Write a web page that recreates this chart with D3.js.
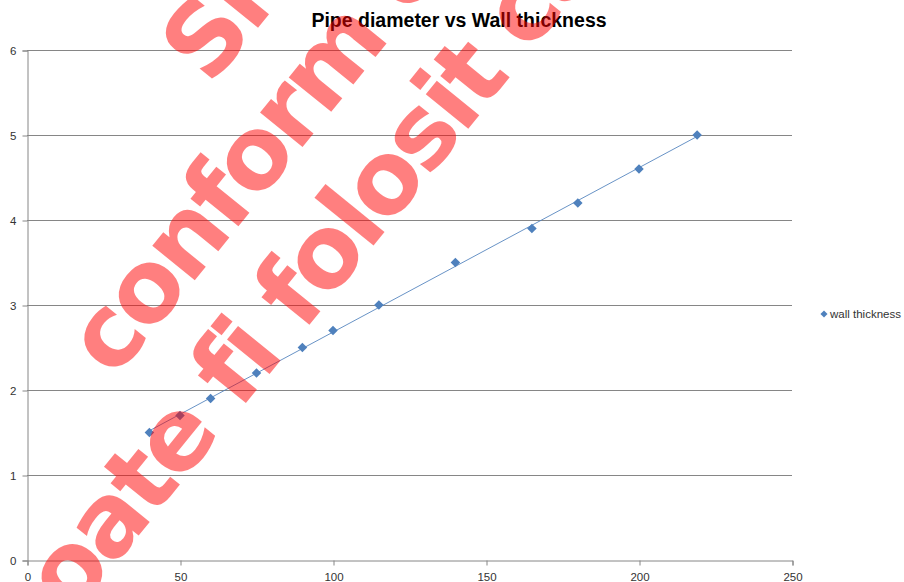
<!DOCTYPE html>
<html>
<head>
<meta charset="utf-8">
<script src="https://cdn.jsdelivr.net/npm/d3@7/dist/d3.min.js"></script>
<style>
  html, body { margin: 0; padding: 0; background: #fff; }
  svg { display: block; }
</style>
</head>
<body>
<svg id="chart" width="904" height="582"></svg>
<script>
// ---- data ----
const diameters = [40, 50, 60, 75, 90, 100, 115, 140, 165, 180, 200, 219];
const wallThickness = [1.5, 1.7, 1.9, 2.2, 2.5, 2.7, 3.0, 3.5, 3.9, 4.2, 4.6, 5.0];
const xTicks = [0, 50, 100, 150, 200, 250];
const yTicks = [0, 1, 2, 3, 4, 5, 6];
const seriesName = "wall thickness";
const chartTitle = "Pipe diameter vs Wall thickness";
const watermarkLines = ["Sh", "conform c", "poate fi folosit ca"];

// ---- layout ----
const svg = d3.select("#chart");
const plot = { left: 27, right: 792, top: 50, bottom: 560 };

const x = d3.scaleLinear().domain([0, 250]).range([plot.left, plot.right]);
const y = d3.scaleLinear().domain([0, 6]).range([plot.bottom, plot.top]);

const gridColor = "#868686";
const blue = "#4F81BD";
const labelFont = "'Liberation Sans', Arial, sans-serif";

// gridlines
svg.append("g")
  .selectAll("line")
  .data(yTicks.filter(d => d > 0))
  .join("line")
  .attr("x1", plot.left).attr("x2", plot.right)
  .attr("y1", d => Math.round(y(d)) + 0.5).attr("y2", d => Math.round(y(d)) + 0.5)
  .attr("stroke", gridColor).attr("stroke-width", 1);

// y axis
const yAxis = d3.axisLeft(y).tickValues(yTicks).tickSize(5).tickPadding(6).tickFormat(d3.format("d"));
const gy = svg.append("g").attr("transform", `translate(${plot.left + 0.5},0.5)`).call(yAxis);
gy.select(".domain").attr("stroke", gridColor);
gy.selectAll(".tick line").attr("stroke", gridColor);
gy.selectAll(".tick text").attr("fill", "#333").style("font-family", labelFont).style("font-size", "11.5px");

// x axis
const xAxis = d3.axisBottom(x).tickValues(xTicks).tickSize(5).tickPadding(7).tickFormat(d3.format("d"));
const gx = svg.append("g").attr("transform", `translate(0.5,${plot.bottom + 0.5})`).call(xAxis);
gx.select(".domain").attr("stroke", gridColor);
gx.selectAll(".tick line").attr("stroke", gridColor);
gx.selectAll(".tick text").attr("fill", "#333").style("font-family", labelFont).style("font-size", "11.5px");

// linear trendline (least squares)
const n = diameters.length;
const mx = d3.mean(diameters), my = d3.mean(wallThickness);
let sxy = 0, sxx = 0;
for (let i = 0; i < n; i++) {
  sxy += (diameters[i] - mx) * (wallThickness[i] - my);
  sxx += (diameters[i] - mx) ** 2;
}
const slope = sxy / sxx, intercept = my - slope * mx;
const x0 = d3.min(diameters), x1 = d3.max(diameters);
svg.append("line")
  .attr("x1", x(x0)).attr("y1", y(intercept + slope * x0))
  .attr("x2", x(x1)).attr("y2", y(intercept + slope * x1))
  .attr("stroke", blue).attr("stroke-width", 1).attr("opacity", 0.85);

// markers
const diamond = d3.symbol().type(d3.symbolDiamond2).size(58);
svg.append("g")
  .selectAll("path")
  .data(diameters.map((d, i) => [d, wallThickness[i]]))
  .join("path")
  .attr("d", diamond)
  .attr("transform", d => `translate(${x(d[0])},${y(d[1])})`)
  .attr("fill", blue);

// legend
const lg = svg.append("g").attr("transform", "translate(824,314)");
lg.append("path").attr("d", d3.symbol().type(d3.symbolDiamond2).size(32)).attr("fill", blue);
lg.append("text").attr("x", 6).attr("y", 4)
  .attr("fill", "#333").style("font-family", labelFont).style("font-size", "11.5px")
  .text(seriesName);

// title
svg.append("text")
  .attr("x", 459).attr("y", 27)
  .attr("text-anchor", "middle")
  .style("font-family", labelFont).style("font-weight", "bold").style("font-size", "19.5px")
  .attr("fill", "#000")
  .text(chartTitle);

// watermark
const wmAngle = -51;
const wmStarts = [[210, 87], [114, 380], [29, 671]];
svg.append("g")
  .selectAll("text")
  .data(watermarkLines)
  .join("text")
  .attr("transform", (d, i) => `translate(${wmStarts[i][0]},${wmStarts[i][1]}) rotate(${wmAngle})`)
  .attr("fill", "red").attr("fill-opacity", 0.5)
  .style("font-family", "'DejaVu Sans', Verdana, sans-serif")
  .style("font-weight", "bold").style("font-size", "100px")
  .style("letter-spacing", "-4px")
  .text(d => d);
</script>
</body>
</html>
